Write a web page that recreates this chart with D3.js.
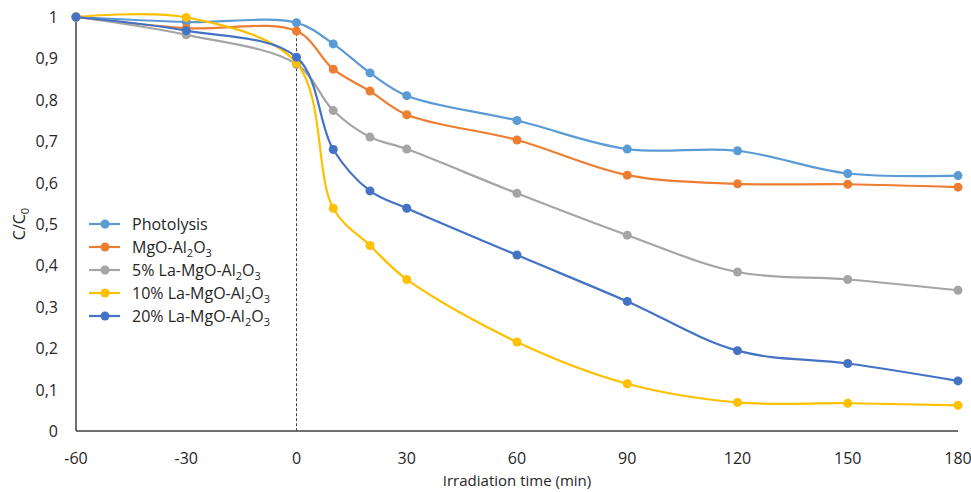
<!DOCTYPE html>
<html>
<head>
<meta charset="utf-8">
<script src="https://cdn.jsdelivr.net/npm/d3@7"></script>
<style>
  body { margin: 0; background: #fff; }
  text { font-family: "Open Sans", sans-serif; fill: #262626; }
</style>
</head>
<body>
<script>
// data
var times = [-60, -30, 0, 10, 20, 30, 60, 90, 120, 150, 180];
var seriesNames = ["Photolysis", "MgO-Al2O3", "5% La-MgO-Al2O3", "10% La-MgO-Al2O3", "20% La-MgO-Al2O3"];
var photolysis = [1, 0.988, 0.986, 0.935, 0.865, 0.81, 0.75, 0.681, 0.677, 0.622, 0.617];
var mgoAl = [1, 0.973, 0.966, 0.874, 0.821, 0.764, 0.703, 0.618, 0.597, 0.596, 0.589];
var la5 = [1, 0.957, 0.886, 0.774, 0.710, 0.681, 0.574, 0.473, 0.384, 0.366, 0.340];
var la10 = [1, 0.999, 0.889, 0.538, 0.448, 0.366, 0.215, 0.114, 0.069, 0.067, 0.062];
var la20 = [1, 0.967, 0.903, 0.680, 0.580, 0.538, 0.425, 0.313, 0.194, 0.163, 0.121];
var colors = ["#5B9BD5", "#ED7D31", "#A5A5A5", "#FFC000", "#4472C4"];
var xTicks = [-60, -30, 0, 30, 60, 90, 120, 150, 180];
var yTicks = [0, 0.1, 0.2, 0.3, 0.4, 0.5, 0.6, 0.7, 0.8, 0.9, 1];

var values = [photolysis, mgoAl, la5, la10, la20];

var W = 971, H = 492;
var margin = {left: 76, right: 13, top: 17, bottom: 61};

var svg = d3.select("body").append("svg")
    .attr("width", W)
    .attr("height", H);

var x = d3.scaleLinear().domain([-60, 180]).range([margin.left, W - margin.right]);
var y = d3.scaleLinear().domain([0, 1]).range([H - margin.bottom, margin.top]);

var fmt = d3.formatLocale({decimal: ",", thousands: ".", grouping: [3], currency: ["", ""]}).format("~g");

// axes lines
svg.append("line")
    .attr("x1", x(-60)).attr("x2", x(-60))
    .attr("y1", y(1)).attr("y2", y(0))
    .attr("stroke", "#404040").attr("stroke-width", 1.5);
svg.append("line")
    .attr("x1", x(-60)).attr("x2", x(180))
    .attr("y1", y(0)).attr("y2", y(0))
    .attr("stroke", "#404040").attr("stroke-width", 1.5);

// dashed marker at t = 0
svg.append("line")
    .attr("x1", x(0)).attr("x2", x(0))
    .attr("y1", y(0.985)).attr("y2", y(0))
    .attr("stroke", "#404040").attr("stroke-width", 1)
    .attr("stroke-dasharray", "3,2");

// tick labels
svg.selectAll("text.ytick").data(yTicks).enter().append("text")
    .attr("class", "ytick")
    .attr("x", 58)
    .attr("y", d => y(d) + 6)
    .attr("text-anchor", "end")
    .style("font-size", "16px")
    .text(d => fmt(d));

svg.selectAll("text.xtick").data(xTicks).enter().append("text")
    .attr("class", "xtick")
    .attr("x", d => x(d))
    .attr("y", 464)
    .attr("text-anchor", "middle")
    .style("font-size", "16px")
    .text(d => d);

svg.append("text")
    .attr("x", 517).attr("y", 486)
    .attr("text-anchor", "middle")
    .style("font-size", "15px")
    .text("Irradiation time (min)");

var yl = svg.append("text")
    .attr("transform", "translate(25,224) rotate(-90)")
    .attr("text-anchor", "middle")
    .style("font-size", "16px");
yl.append("tspan").text("C/C");
yl.append("tspan").attr("dy", 4).style("font-size", "11px").text("0");

// series
var line = d3.line()
    .x(d => x(d.t))
    .y(d => y(d.v))
    .curve(d3.curveCatmullRom.alpha(0.5));

values.forEach(function(vals, i) {
    var pts = times.map((t, j) => ({t: t, v: vals[j]}));
    var g = svg.append("g").attr("class", "series");
    g.append("path")
        .datum(pts)
        .attr("d", line)
        .attr("fill", "none")
        .attr("stroke", colors[i])
        .attr("stroke-width", 2.2);
    g.selectAll("circle").data(pts).enter().append("circle")
        .attr("cx", d => x(d.t))
        .attr("cy", d => y(d.v))
        .attr("r", 4.5)
        .attr("fill", colors[i]);
});

// legend
function labelParts(name) {
    // split "Al2O3" into text and subscripts
    var parts = [];
    var m = name.match(/^(.*Al)2(O)3$/);
    if (m) {
        parts.push({t: m[1], sub: false});
        parts.push({t: "2", sub: true});
        parts.push({t: m[2], sub: false});
        parts.push({t: "3", sub: true});
    } else {
        parts.push({t: name, sub: false});
    }
    return parts;
}

var legend = svg.append("g").attr("class", "legend");
seriesNames.forEach(function(name, i) {
    var ly = 224 + i * 23;
    legend.append("line")
        .attr("x1", 89).attr("x2", 120)
        .attr("y1", ly).attr("y2", ly)
        .attr("stroke", colors[i]).attr("stroke-width", 2.2);
    legend.append("circle")
        .attr("cx", 105).attr("cy", ly).attr("r", 4.5)
        .attr("fill", colors[i]);
    var t = legend.append("text")
        .attr("x", 132).attr("y", ly + 6)
        .style("font-size", "16px");
    labelParts(name).forEach(function(p) {
        var ts = t.append("tspan").text(p.t);
        if (p.sub) ts.style("font-size", "11px").attr("dy", 4);
        else if (p.t === "O") ts.attr("dy", -4);
    });
});
</script>
</body>
</html>
